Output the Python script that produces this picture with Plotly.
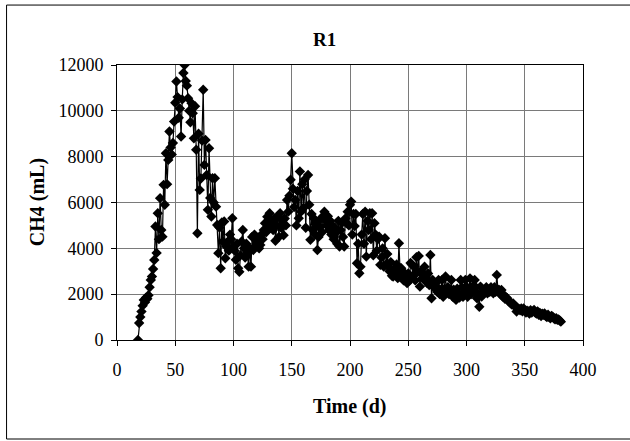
import plotly.graph_objects as go

# Daily methane production of reactor R1
first_day = 18
ch4_ml = [
    0, 740, 1000, 1240, 1500, 1750, 1650, 1850, 1800, 1950,
    2300, 2620, 2770, 3100, 3490, 4950, 3800, 5530, 4400, 6190,
    4800, 4510, 6770, 5900, 8150, 6800, 7860, 9100, 8400, 8100,
    8600, 9530, 10350, 11280, 10600, 9700, 10100, 8880, 10500, 11650,
    12000, 11300, 11100, 10550, 10000, 9500, 10330, 9900, 8800, 10200,
    8300, 4660, 9000, 6550, 7050, 8700, 10920, 7640, 8730, 7200,
    5680, 8370, 6200, 5390, 7060, 6000, 7060, 5820, 5020, 3790,
    4910, 3130, 5130, 4300, 5170, 3570, 4070, 4290, 3900, 4600,
    4400, 5310, 4100, 3900, 3500, 4200, 3130, 2980, 3700, 4300,
    4800, 4000, 3600, 4200, 3800, 3200, 4000, 3200, 4500, 3930,
    4600, 4100, 4300, 4370, 4000, 4150, 4600, 4400, 4800, 5100,
    4700, 5380, 5000, 5530, 4900, 5200, 4800, 5300, 4330, 5000,
    5400, 4500, 5530, 4900, 5200, 4570, 5300, 5000, 6110, 5600,
    6300, 6990, 8150, 6600, 5800, 6110, 5000, 6500, 5310, 7350,
    5600, 6800, 5760, 7000, 4900, 6500, 7200, 5900, 4370, 5500,
    4800, 5300, 4600, 5100, 3930, 4500, 4900, 5300, 4700, 5400,
    5600, 5200, 5000, 5400, 4800, 5200, 4600, 5000, 4400, 4900,
    4700, 4200, 5200, 4080, 4800, 5100, 4500, 4080, 5300, 5100,
    5600, 5000, 5900, 6040, 4600, 5500, 4970, 5500, 3350, 4200,
    2910, 3200, 4600, 5500, 4200, 5600, 3640, 5200, 4800, 5530,
    4400, 5530, 3700, 5100, 4600, 3900, 4400, 4510, 3280, 3600,
    4000, 3200, 4440, 3300, 3750, 3200, 3000, 3400, 2800, 2770,
    3100, 2900, 3300, 2700, 4220, 3000, 3130, 2770, 2600, 2910,
    2700, 2480, 2900, 2600, 3360, 3300, 2800, 3200, 2600, 3610,
    2960, 3670, 2330, 3000, 2700, 2840, 3200, 2600, 2500, 2900,
    2400, 3710, 1820, 2620, 2300, 2460, 2330, 2100, 2620, 2000,
    2200, 2620, 1890, 2240, 2770, 2100, 2300, 2000, 2100, 2620,
    1900, 2200, 2040, 1750, 2240, 2000, 1850, 2620, 2300, 1890,
    2100, 2620, 2330, 1890, 2200, 2690, 2000, 2330, 2100, 2620,
    2300, 1820, 2000, 1450, 2330, 1900, 2100, 2040, 2200, 2300,
    2040, 2200, 2100, 2300, 2180, 2040, 2300, 2100, 2840, 2200,
    2180, 2000, 2180, 1900, 1970, 1800, 1850, 1820, 1700, 1650,
    1600, 1550, 1600, 1500, 1450, 1240, 1400, 1350, 1300, 1380,
    1250, 1380, 1300, 1200, 1280, 1250, 1150, 1300, 1200, 1250,
    1310, 1200, 1150, 1250, 1100, 1180, 1050, 1150, 1100, 1160,
    1050, 1000, 1100, 1000, 950, 1050, 1020, 950, 900, 950,
    880, 900, 850, 800,
]
days = list(range(first_day, first_day + len(ch4_ml)))

x_ticks = [0, 50, 100, 150, 200, 250, 300, 350, 400]
y_ticks = [0, 2000, 4000, 6000, 8000, 10000, 12000]
y_tick_text = [str(v) for v in y_ticks]

serif = "Liberation Serif, Times New Roman, serif"

fig = go.Figure(
    go.Scatter(
        x=days,
        y=ch4_ml,
        mode="lines+markers",
        line=dict(color="black", width=1.2),
        marker=dict(symbol="diamond", size=8, color="black"),
        showlegend=False,
    )
)

axis_common = dict(
    showgrid=True,
    gridcolor="#7a7a7a",
    gridwidth=1,
    zeroline=False,
    showline=True,
    linecolor="black",
    linewidth=1,
    mirror=True,
    ticks="outside",
    ticklen=5,
    tickcolor="black",
    tickfont=dict(family=serif, size=18, color="black"),
)

fig.update_xaxes(range=[0, 400], tickvals=x_ticks, ticklabelstandoff=8,
                 **axis_common)
fig.update_yaxes(range=[0, 12000], tickvals=y_ticks, ticktext=y_tick_text,
                 ticklabelstandoff=4, **axis_common)

fig.update_layout(
    width=630,
    height=441,
    margin=dict(l=117, r=47, t=65, b=101),
    paper_bgcolor="white",
    plot_bgcolor="white",
    annotations=[
        dict(text="<b>R1</b>", xref="paper", yref="paper", x=0.446, y=1.091,
             xanchor="center", yanchor="middle", showarrow=False,
             font=dict(family=serif, size=19, color="black")),
        dict(text="<b>Time (d)</b>", xref="paper", yref="paper", x=0.5, y=-0.24,
             xanchor="center", yanchor="middle", showarrow=False,
             font=dict(family=serif, size=20, color="black")),
        dict(text="<b>CH4 (mL)</b>", xref="paper", yref="paper", x=-0.17, y=0.5,
             xanchor="center", yanchor="middle", textangle=-90, showarrow=False,
             font=dict(family=serif, size=20, color="black")),
    ],
    shapes=[
        dict(type="rect", xref="paper", yref="paper",
             x0=-0.237, x1=1.15, y0=-0.36, y1=1.218,
             line=dict(color="black", width=1)),
    ],
)

fig.write_html("out.html")
